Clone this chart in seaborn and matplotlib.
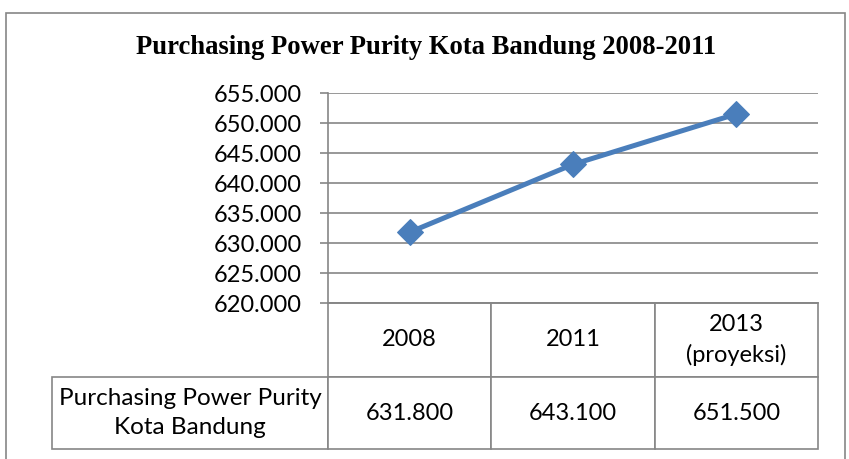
import numpy as np
import pandas as pd
import matplotlib
matplotlib.use('Agg')
import matplotlib.pyplot as plt
from matplotlib.patches import Rectangle
from matplotlib.ticker import FuncFormatter
from matplotlib.table import Table
import seaborn as sns

# data
years = ['2008', '2011', '2013\n(proyeksi)']
ppp_values = [631800, 643100, 651500]
ppp_labels = ['631.800', '643.100', '651.500']
series_name = 'Purchasing Power Purity\nKota Bandung'
title = 'Purchasing Power Purity Kota Bandung 2008-2011'
y_ticks = [620000, 625000, 630000, 635000, 640000, 645000, 650000, 655000]

sns.set_style('white')
plt.rcParams['font.family'] = ['Lato', 'DejaVu Sans']
plt.rcParams['text.color'] = 'black'

W, H = 849, 459
fig = plt.figure(figsize=(W / 100, H / 100), dpi=100)

grey = '#868686'
blue = '#4A7EBB'

# plot area in pixels
left, right, top, bottom = 328, 818, 93, 303
ax = fig.add_axes([left / W, 1 - bottom / H, (right - left) / W, (bottom - top) / H])

df = pd.DataFrame({'year': years, 'value': ppp_values})
sns.lineplot(data=df, x='year', y='value', ax=ax, color=blue, lw=3.6,
             marker='D', markersize=13.5, markeredgecolor=blue, sort=False)

ax.set_xlim(-0.5, len(years) - 0.5)
ax.set_ylim(y_ticks[0], y_ticks[-1])
ax.set_yticks(y_ticks)
ax.yaxis.set_major_formatter(FuncFormatter(lambda v, p: f'{v:,.0f}'.replace(',', '.')))
ax.set_xticks([])
ax.set_xlabel('')
ax.set_ylabel('')
ax.grid(axis='y', color=grey, lw=1.2)
ax.set_axisbelow(True)
for s in ['top', 'right']:
    ax.spines[s].set_visible(False)
for s in ['left', 'bottom']:
    ax.spines[s].set_color(grey)
    ax.spines[s].set_linewidth(1.2)
ax.tick_params(axis='y', direction='out', length=6, width=1.2, color=grey,
               labelsize=17, labelcolor='black', pad=13, left=True)

# data table under the axis (widths/heights in axes fractions)
axw, axh = right - left, bottom - top
row_w = 276 / axw
col_w = 1 / len(years)
head_h, row_h = 74 / axh, 72 / axh
tbl = Table(ax, bbox=[0, -(head_h + row_h), 1, head_h + row_h])
for j, yr in enumerate(years):
    tbl.add_cell(0, j, col_w, head_h, text=yr, loc='center')
    tbl.add_cell(1, j, col_w, row_h, text=ppp_labels[j], loc='center')
tbl.add_cell(1, -1, row_w, row_h, text=series_name, loc='center')
tbl.auto_set_font_size(False)
tbl.set_fontsize(17)
for (r, c), cell in tbl.get_celld().items():
    cell.set_edgecolor(grey)
    cell.set_linewidth(1.2)
    cell.get_text().set_color('black')
    cell.get_text().set_linespacing(1.5)
tbl[1, -1].get_text().set_fontsize(17.5)
ax.add_table(tbl)

fig.text(426 / W, 1 - 48 / H, title, ha='center', va='center', color='black',
         fontsize=19.2, fontweight='bold', family='Liberation Serif')

# chart frame
fig.patches.append(Rectangle((6 / W, -0.1), 839 / W, 1.1 - 13 / H,
                             transform=fig.transFigure, fill=False,
                             edgecolor=grey, lw=1.2))

fig.savefig('out.png', dpi=100)
